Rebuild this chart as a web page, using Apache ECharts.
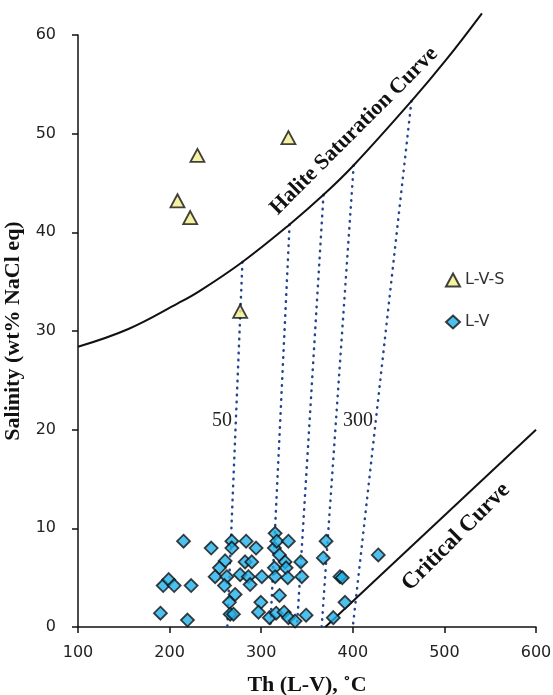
<!DOCTYPE html>
<html>
<head>
<meta charset="utf-8">
<script src="https://cdn.jsdelivr.net/npm/echarts@6/dist/echarts.min.js"></script>
<style>
  html, body { margin: 0; padding: 0; background: #fff; }
  #chart { width: 553px; height: 695px; }
</style>
</head>
<body>
<div id="chart"></div>
<script>
// 刻度
const xTicks = [100, 200, 300, 400, 500, 600]
const yTicks = [0, 10, 20, 30, 40, 50, 60]

// L-V-S 包裹体 (三角)
const lvsTh = [208.6, 222.5, 230.4, 329.7, 277]
const lvsSal = [43.2, 41.5, 47.8, 49.6, 32.0]

// L-V 包裹体 (菱形)
const lvTh = [193, 199, 205, 223.5, 190, 219.5, 215.2, 245.4, 268, 268,
  283.5, 294.4, 315.2, 314.4, 317, 329.7, 260.6, 254.4, 282.4, 289.7,
  319.9, 326.1, 314.4, 327.2, 343.2, 249.7, 262.5, 259.9, 277, 286,
  287.9, 300.7, 315.2, 329, 271.5, 319.9, 265.3, 299.6, 266.1, 269.7,
  297, 309, 316.3, 325, 329.7, 337, 349, 370.8, 367.8, 344.3,
  386, 388.5, 427.8, 391.5, 378.7]
const lvSal = [4.2, 4.8, 4.2, 4.2, 1.4, 0.7, 8.7, 8.0, 8.7, 8.0,
  8.7, 8.0, 9.5, 8.0, 8.7, 8.7, 6.7, 6.0, 6.6, 6.6,
  7.3, 6.6, 6.0, 6.0, 6.6, 5.1, 5.1, 4.2, 5.3, 5.1,
  4.3, 5.1, 5.1, 5.0, 3.3, 3.2, 2.5, 2.5, 1.3, 1.3,
  1.5, 0.95, 1.4, 1.5, 0.95, 0.6, 1.2, 8.7, 7.0, 5.1,
  5.1, 5.0, 7.3, 2.5, 0.95]

// 石盐饱和曲线
const haliteTh = [100, 155, 209, 233.5, 279.5, 331, 368, 401, 464, 502, 541]
const haliteSal = [28.4, 30.2, 32.8, 34.1, 37.0, 40.8, 43.8, 46.8, 53.3, 57.5, 62.2]

// 临界曲线
const criticalTh = [370, 600]
const criticalSal = [0, 20]

// 等容线 (点线): 上端在饱和曲线上, 下端在 0
const isoTopTh = [279.5, 331, 368, 401, 464]
const isoTopSal = [37.0, 40.8, 43.8, 46.8, 53.3]
const isoBotTh = [263, 310, 339, 366, 400]
const isoBotSal = [0, 0, 0, 0, 0]

const zip = (a, b) => a.map((v, i) => [v, b[i]])

const chart = echarts.init(document.getElementById('chart'))

const isoSeries = isoTopTh.map((t, i) => ({
  type: 'line',
  data: [[t, isoTopSal[i]], [isoBotTh[i], isoBotSal[i]]],
  symbol: 'none',
  silent: true,
  lineStyle: { color: '#23448f', width: 2.5, type: [0.5, 6.5], cap: 'round' },
  z: 1
}))

const serif = '"Liberation Serif", "Times New Roman", serif'
const sans = '"DejaVu Sans", Verdana, sans-serif'

const option = {
  backgroundColor: '#fff',
  animation: false,
  grid: { left: 78, right: 17, top: 35, bottom: 68, outerBoundsMode: 'none', containLabel: false },
  legend: {
    data: ['L-V-S', 'L-V'],
    orient: 'vertical',
    left: 440,
    top: 267,
    itemGap: 26,
    itemWidth: 14,
    itemHeight: 13,
    textStyle: { fontFamily: sans, fontSize: 16, color: '#333' }
  },
  xAxis: {
    type: 'value',
    min: xTicks[0],
    max: xTicks[xTicks.length - 1],
    interval: 100,
    name: 'Th (L-V), ˚C',
    nameLocation: 'middle',
    nameGap: 47,
    nameTextStyle: { fontFamily: serif, fontWeight: 'bold', fontSize: 22, color: '#111' },
    axisLine: { onZero: false, lineStyle: { color: '#111', width: 1.5 } },
    axisTick: { length: 6, lineStyle: { color: '#111', width: 1.5 } },
    axisLabel: { fontFamily: sans, fontSize: 16, color: '#222', margin: 18 },
    splitLine: { show: false }
  },
  yAxis: {
    type: 'value',
    min: yTicks[0],
    max: yTicks[yTicks.length - 1],
    interval: 10,
    name: 'Salinity (wt% NaCl eq)',
    nameLocation: 'middle',
    nameGap: 48,
    nameTextStyle: { fontFamily: serif, fontWeight: 'bold', fontSize: 22, color: '#111' },
    axisLine: { show: true, lineStyle: { color: '#111', width: 1.5 } },
    axisTick: { show: true, length: 6, lineStyle: { color: '#111', width: 1.5 } },
    axisLabel: { fontFamily: sans, fontSize: 16, color: '#222', margin: 22 },
    splitLine: { show: false }
  },
  graphic: [
    {
      type: 'text', x: 354, y: 131, rotation: Math.PI / 4,
      style: { text: 'Halite Saturation Curve', font: 'bold 22px ' + serif, fill: '#111', align: 'center', verticalAlign: 'middle' }
    },
    {
      type: 'text', x: 456, y: 537, rotation: Math.PI / 4,
      style: { text: 'Critical Curve', font: 'bold 23px ' + serif, fill: '#111', align: 'center', verticalAlign: 'middle' }
    },
    {
      type: 'text', x: 222, y: 421,
      style: { text: '50', font: '20px ' + serif, fill: '#222', align: 'center', verticalAlign: 'middle' }
    },
    {
      type: 'text', x: 358, y: 421,
      style: { text: '300', font: '20px ' + serif, fill: '#222', align: 'center', verticalAlign: 'middle' }
    }
  ],
  series: [
    ...isoSeries,
    {
      name: 'halite',
      type: 'line',
      data: zip(haliteTh, haliteSal),
      smooth: 0.4,
      symbol: 'none',
      clip: false,
      silent: true,
      lineStyle: { color: '#111', width: 2 },
      z: 2
    },
    {
      name: 'critical',
      type: 'line',
      data: zip(criticalTh, criticalSal),
      symbol: 'none',
      silent: true,
      lineStyle: { color: '#111', width: 2 },
      z: 2
    },
    {
      name: 'L-V-S',
      type: 'scatter',
      data: zip(lvsTh, lvsSal),
      symbol: 'triangle',
      symbolSize: [14, 13],
      itemStyle: { color: '#f3ef8c', borderColor: '#111', borderWidth: 1.8 },
      z: 5
    },
    {
      name: 'L-V',
      type: 'scatter',
      data: zip(lvTh, lvSal),
      symbol: 'diamond',
      symbolSize: 13,
      itemStyle: { color: '#22b0e8', borderColor: '#111', borderWidth: 1.8 },
      z: 5
    }
  ]
}

chart.setOption(option)
</script>
</body>
</html>
